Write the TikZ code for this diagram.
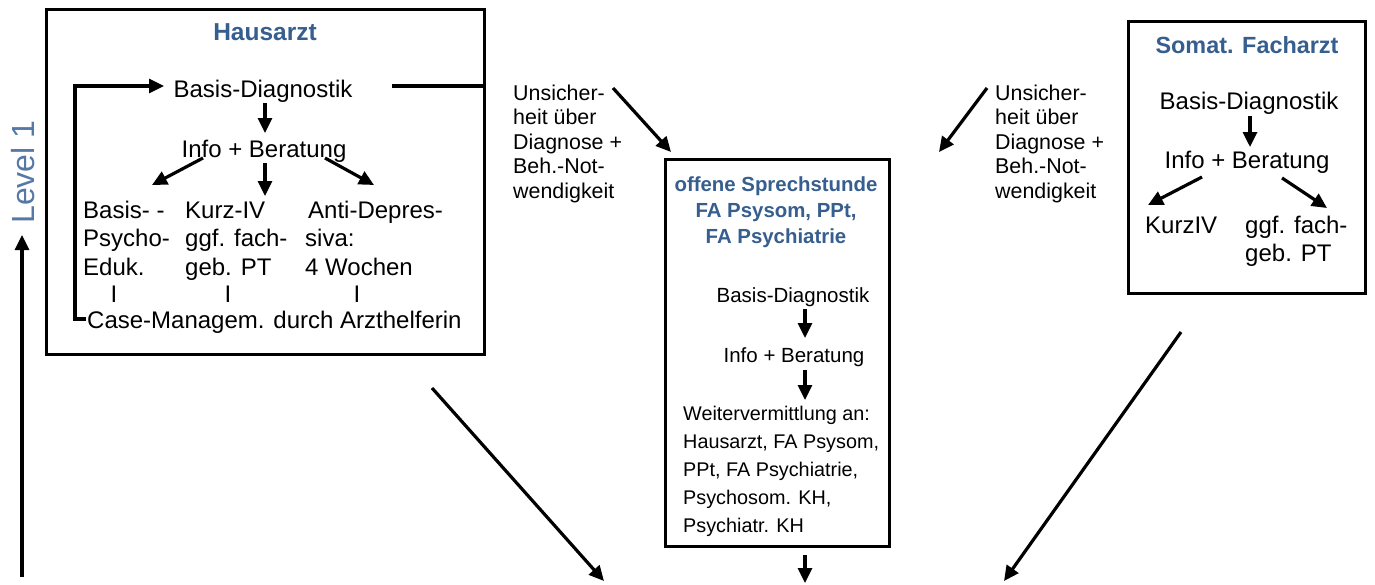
\documentclass[tikz,border=0pt]{standalone}
\usepackage{fontspec}
\setmainfont{Liberation Sans}
\usetikzlibrary{arrows.meta}
\definecolor{titleblue}{HTML}{365E8E}
\definecolor{levelblue}{HTML}{5578A6}
\newcommand\mlL[1]{\begin{tabular}[t]{@{}l@{}}#1\end{tabular}}
\newcommand\mlC[1]{\begin{tabular}[t]{@{}c@{}}#1\end{tabular}}
\begin{document}
\begin{tikzpicture}[x=1pt,y=-1pt,
  boxst/.style={draw, line width=3pt, inner sep=0pt, anchor=north west},
  arr/.style={line width=3.2pt, -{Triangle[length=15pt,width=14pt]}},
  ln/.style={line width=3.2pt},
  tH/.style={font=\fontsize{24}{28.5}\selectfont, inner sep=0pt},
  tF/.style={font=\fontsize{20.5}{28}\selectfont, inner sep=0pt},
  tW/.style={font=\fontsize{19.8}{28}\selectfont, inner sep=0pt},
  tS/.style={font=\fontsize{21.4}{24.5}\selectfont, inner sep=0pt},
  ttl/.style={font=\bfseries\fontsize{24.5}{26}\selectfont, text=titleblue, inner sep=0pt},
  ttlS/.style={font=\bfseries\fontsize{23.4}{26}\selectfont, text=titleblue, inner sep=0pt},
  ttlF/.style={font=\bfseries\fontsize{20.4}{26}\selectfont, text=titleblue, inner sep=0pt}]
\useasboundingbox (0,0) rectangle (1375,584);
\fill[white] (0,0) rectangle (1375,584);

% ---------- Level 1 ----------
\node[font=\fontsize{32}{32}\selectfont, text=levelblue, rotate=90, inner sep=0pt] (lvl) at (23,172) {Level 1};
\coordinate (la) at (22,577);
\coordinate (lb) at (22,235);
\draw[arr] (la) -- (lb);

% ---------- Hausarzt ----------
\node[boxst, minimum width=438pt, minimum height=345pt] (hbox) at (45,8) {};
\node[ttl, anchor=base] (htitle) at (265,40) {Hausarzt};
\node[tH, anchor=base] (hbd) at (263,97) {Basis-Diagnostik};
\node[tH, anchor=base] (hib) at (264,157) {Info + Beratung};
\node[tH, anchor=base west] (hc1) at (83,218) {\mlL{Basis- -\\Psycho-\\Eduk.}};
\node[tH, anchor=base west] (hc2) at (185,218) {\mlL{Kurz-IV\\ggf. fach-\\geb. PT}};
\node[tH, anchor=base west] (hc3) at (305,218) {\mlL{\hspace*{3pt}Anti-Depres-\\siva:\\4 Wochen}};
\node[tH, anchor=base] (hi1) at (114,302) {I};
\node[tH, anchor=base] (hi2) at (228,302) {I};
\node[tH, anchor=base] (hi3) at (357,302) {I};
\node[tH, anchor=base west] (hcase) at (87,328) {Case-Managem. durch Arzthelferin};

\coordinate (hle) at (86,319);
\coordinate (hlb) at (75,319);
\coordinate (hlc) at (75,86);
\coordinate (hlt) at (164,86);
\draw[arr] (hle) -- (hlb) -- (hlc) -- (hlt);
\coordinate (hr1) at (392,86);
\draw[ln] (hr1) -- (hr1 -| hbox.east);
\coordinate (ha1) at (265,103);
\coordinate (ha2) at (265,133);
\draw[arr] (ha1) -- (ha2);
\coordinate (hb1) at (203,158);
\coordinate (hb2) at (152,185);
\draw[arr] (hb1) -- (hb2);
\coordinate (hc1a) at (265,163);
\coordinate (hc1b) at (265,196);
\draw[arr] (hc1a) -- (hc1b);
\coordinate (hd1) at (325,158);
\coordinate (hd2) at (374,185);
\draw[arr] (hd1) -- (hd2);

% ---------- side texts ----------
\node[tS, anchor=base west] (uleft) at (513,100) {\mlL{Unsicher-\\heit über\\Diagnose +\\Beh.-Not-\\wendigkeit}};
\node[tS, anchor=base west] (uright) at (995,100) {\mlL{Unsicher-\\heit über\\Diagnose +\\Beh.-Not-\\wendigkeit}};
\coordinate (ul1) at (613,88);
\coordinate (ul2) at (671,152);
\draw[arr] (ul1) -- (ul2);
\coordinate (ur1) at (987,88);
\coordinate (ur2) at (939,152);
\draw[arr] (ur1) -- (ur2);

% ---------- FA box ----------
\node[boxst, minimum width=224pt, minimum height=387pt] (fbox) at (664,158) {};
\node[ttlF, anchor=base] (ftitle) at (776,191) {\mlC{offene Sprechstunde\\FA Psysom, PPt,\\FA Psychiatrie}};
\node[tF, anchor=base] (fbd) at (793,302) {Basis-Diagnostik};
\node[tF, anchor=base] (fib) at (794,362) {Info + Beratung};
\node[tW, anchor=base west] (fwv) at (683,420) {\mlL{Weitervermittlung an:\\Hausarzt, FA Psysom,\\PPt, FA Psychiatrie,\\Psychosom. KH,\\Psychiatr. KH}};
\coordinate (fa1) at (805,309);
\coordinate (fa2) at (805,338);
\draw[arr] (fa1) -- (fa2);
\coordinate (fb1) at (805,370);
\coordinate (fb2) at (805,400);
\draw[arr] (fb1) -- (fb2);
\coordinate (fc1) at (805,555);
\coordinate (fc2) at (805,583);
\draw[arr] (fc1) -- (fc2);

% ---------- Somat. Facharzt ----------
\node[boxst, minimum width=237pt, minimum height=272pt] (sbox) at (1127,20) {};
\node[ttlS, anchor=base] (stitle) at (1247,53) {Somat. Facharzt};
\node[tH, anchor=base] (sbd) at (1249,109) {Basis-Diagnostik};
\node[tH, anchor=base] (sib) at (1247,168) {Info + Beratung};
\node[tH, anchor=base west] (skurz) at (1145,233) {KurzIV};
\node[tH, anchor=base west] (sggf) at (1245,233) {\mlL{ggf. fach-\\geb. PT}};
\coordinate (sa1) at (1250,116);
\coordinate (sa2) at (1250,147);
\draw[arr] (sa1) -- (sa2);
\coordinate (sb1) at (1202,177);
\coordinate (sb2) at (1148,205);
\draw[arr] (sb1) -- (sb2);
\coordinate (sc1) at (1282,178);
\coordinate (sc2) at (1327,208);
\draw[arr] (sc1) -- (sc2);

% ---------- big arrows ----------
\coordinate (bl1) at (432,388);
\coordinate (bl2) at (604,581);
\draw[arr] (bl1) -- (bl2);
\coordinate (br1) at (1181,332);
\coordinate (br2) at (1004,581);
\draw[arr] (br1) -- (br2);
\end{tikzpicture}
\end{document}
